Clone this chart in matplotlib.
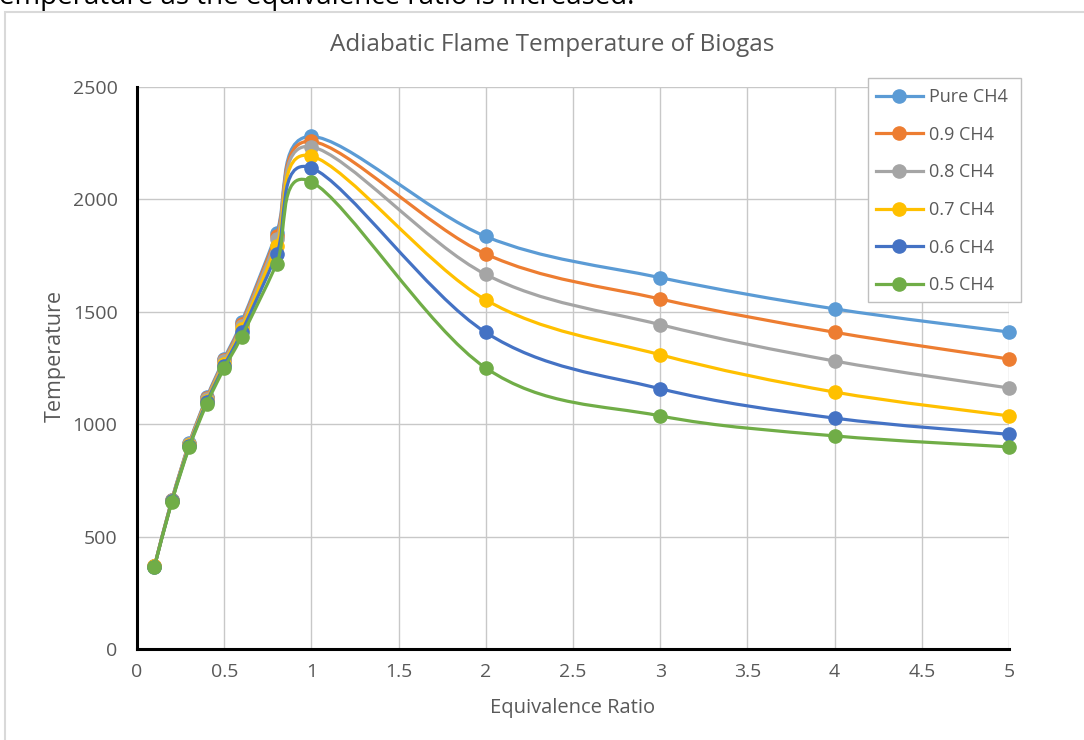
import matplotlib
matplotlib.use("Agg")
import matplotlib.pyplot as plt
from matplotlib.path import Path
from matplotlib.patches import PathPatch, Rectangle
from matplotlib.lines import Line2D

plt.rcParams['font.family'] = ['Open Sans', 'DejaVu Sans']

phi = [0.1, 0.2, 0.3, 0.4, 0.5, 0.6, 0.8, 1.0, 2.0, 3.0, 4.0, 5.0]
pure_ch4 = [368, 665, 918, 1120, 1292, 1455, 1850, 2280, 1835, 1652, 1513, 1410]
ch4_09 = [368, 663, 914, 1115, 1285, 1447, 1838, 2258, 1757, 1557, 1409, 1290]
ch4_08 = [367, 662, 911, 1110, 1279, 1438, 1822, 2234, 1666, 1443, 1281, 1161]
ch4_07 = [367, 660, 907, 1104, 1270, 1425, 1793, 2193, 1553, 1309, 1143, 1037]
ch4_06 = [366, 658, 902, 1098, 1260, 1410, 1755, 2140, 1408, 1158, 1027, 955]
ch4_05 = [366, 655, 897, 1090, 1249, 1390, 1712, 2078, 1250, 1037, 948, 899]

series_names = ['Pure CH4', '0.9 CH4', '0.8 CH4', '0.7 CH4', '0.6 CH4', '0.5 CH4']
series_vals = [pure_ch4, ch4_09, ch4_08, ch4_07, ch4_06, ch4_05]
colors = ['#5B9BD5', '#ED7D31', '#A5A5A5', '#FFC000', '#4472C4', '#70AD47']

xticks = [0, 0.5, 1, 1.5, 2, 2.5, 3, 3.5, 4, 4.5, 5]
xtick_labels = ['0', '0.5', '1', '1.5', '2', '2.5', '3', '3.5', '4', '4.5', '5']
yticks = [0, 500, 1000, 1500, 2000, 2500]
ytick_labels = ['0', '500', '1000', '1500', '2000', '2500']

W, H = 1084, 740
fig = plt.figure(figsize=(W / 100, H / 100), dpi=100)

# outer chart frame and cut-off caption text
fig.patches.append(Rectangle((5 / W, -0.1), 1.2, 1 - 12 / H + 0.1, transform=fig.transFigure,
                             fill=False, edgecolor='#d9d9d9', linewidth=1.5))
fig.text(-1 / W, 1 - 4 / H, 'emperature as the equivalence ratio is increased.',
         fontsize=20, color='black', va='baseline', ha='left')

ax = fig.add_axes([137 / W, 1 - 649 / H, (1009 - 137) / W, (649 - 87) / H])


def smooth_path(xs, ys):
    pts = list(zip(xs, ys))
    verts = [pts[0]]
    codes = [Path.MOVETO]
    n = len(pts)
    for i in range(n - 1):
        p0 = pts[i - 1] if i > 0 else pts[i]
        p1 = pts[i]
        p2 = pts[i + 1]
        p3 = pts[i + 2] if i + 2 < n else pts[i + 1]
        c1 = (p1[0] + (p2[0] - p0[0]) / 6, p1[1] + (p2[1] - p0[1]) / 6)
        c2 = (p2[0] - (p3[0] - p1[0]) / 6, p2[1] - (p3[1] - p1[1]) / 6)
        verts += [c1, c2, p2]
        codes += [Path.CURVE4] * 3
    return Path(verts, codes)


for k, (name, vals, c) in enumerate(zip(series_names, series_vals, colors)):
    patch = PathPatch(smooth_path(phi, vals), facecolor='none', edgecolor=c,
                      linewidth=2.3, zorder=3 + k * 0.1, capstyle='round', joinstyle='round')
    ax.add_patch(patch)
    ax.plot(phi, vals, linestyle='none', marker='o', markersize=9.5, color=c,
            markeredgecolor=c, zorder=3.05 + k * 0.1, clip_on=False)

ax.set_xlim(0, 5)
ax.set_ylim(0, 2500)
ax.set_xticks(xticks)
ax.set_xticklabels(xtick_labels)
ax.set_yticks(yticks)
ax.set_yticklabels(ytick_labels)
ax.grid(True, color='#c8c8c8', linewidth=1.0)
ax.set_axisbelow(True)
ax.tick_params(length=0, labelsize=14, colors='#595959')
ax.tick_params(axis='x', pad=10)
ax.tick_params(axis='y', pad=14)
for s in ['top', 'right']:
    ax.spines[s].set_visible(False)
for s in ['left', 'bottom']:
    ax.spines[s].set_color('black')
    ax.spines[s].set_linewidth(2.2)

ax.set_xlabel('Equivalence Ratio', fontsize=14.5, color='#595959')
ax.xaxis.set_label_coords((573 - 137) / (1009 - 137), -(708 - 649) / (649 - 87))
ax.xaxis.label.set_va('center')
ax.set_ylabel('Temperature', fontsize=15.5, color='#595959')
ax.yaxis.set_label_coords(-(137 - 55) / (1009 - 137), (649 - 356) / (649 - 87))
ax.yaxis.label.set_va('center')
fig.text(552 / W, 1 - 45 / H, 'Adiabatic Flame Temperature of Biogas', fontsize=17.5,
         color='#595959', ha='center', va='center')

# legend box (fixed Excel-like size) and legend entries
legbox = Rectangle((868 / W, 1 - 302 / H), (1021 - 868) / W, (302 - 78) / H,
                   transform=fig.transFigure, facecolor='white', edgecolor='#bfbfbf',
                   linewidth=1.0, zorder=9, clip_on=False)
ax.add_patch(legbox)

handles = [Line2D([0], [0], color=c, linewidth=2.3, marker='o', markersize=9.5)
           for c in colors]
leg = ax.legend(handles, series_names, loc='upper left',
                bbox_to_anchor=((866 - 137) / (1009 - 137), (649 - 78) / (649 - 87)),
                frameon=False, fontsize=13, handlelength=2.6, labelspacing=1.09,
                borderpad=0.55, handletextpad=0.33, borderaxespad=0)
leg.set_zorder(10)
for t in leg.get_texts():
    t.set_color('#595959')

fig.savefig('out.png', dpi=100)
